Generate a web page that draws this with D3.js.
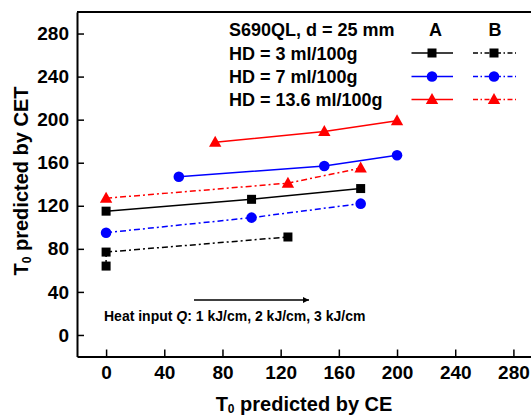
<!DOCTYPE html>
<html><head><meta charset="utf-8">
<script src="https://cdn.jsdelivr.net/npm/d3@7"></script>
<style>body{margin:0;background:#fff}svg{display:block}text{font-family:"Liberation Sans",Arial,sans-serif;font-weight:bold;fill:#000}</style>
</head><body><svg id="c" width="531" height="416"></svg>
<script>
const xTicks = [0, 40, 80, 120, 160, 200, 240, 280];
const yTicks = [0, 40, 80, 120, 160, 200, 240, 280];
const seriesNames = ["HD = 3 ml/100g", "HD = 7 ml/100g", "HD = 13.6 ml/100g"];
const seriesColors = ["#000000", "#0000ff", "#ff0000"];
const seriesShapes = ["square", "circle", "triangle"];
// Set A (solid)
const aX3 = [0, 100, 175],  aY3 = [115, 126, 136];
const aX7 = [50, 150, 200], aY7 = [147, 157, 167];
const aX13 = [75, 150, 200], aY13 = [179, 189, 199];
// Set B (dash-dot)
const bX3 = [0, 0, 125],    bY3 = [64, 77, 91];
const bX7 = [0, 100, 175],  bY7 = [95, 109, 122];
const bX13 = [0, 125, 175], bY13 = [127, 141, 155];

const svg = d3.select("#c");
const x = d3.scaleLinear().domain([-20, 300]).range([77, 542.5]);
const y = d3.scaleLinear().domain([-20, 300]).range([356.5, 12]);

const setA = [[aX3, aY3], [aX7, aY7], [aX13, aY13]];
const setB = [[bX3, bY3], [bX7, bY7], [bX13, bY13]];
const dashB = "6,3,2,3";
const FONT = '"Liberation Sans",Arial,sans-serif';

// axes
const xAxis = d3.axisBottom(x).tickValues(xTicks).tickSizeInner(-7).tickSizeOuter(0).tickPadding(9);
const yAxis = d3.axisLeft(y).tickValues(yTicks).tickSizeInner(-7).tickSizeOuter(0).tickPadding(8);
const gx = svg.append("g").attr("transform", `translate(0,${y(-20)})`).call(xAxis);
const gy = svg.append("g").attr("transform", `translate(${x(-20)},0)`).call(yAxis);
[gx, gy].forEach(g => {
  g.select(".domain").attr("stroke", "#000").attr("stroke-width", 2);
  g.selectAll(".tick line").attr("stroke", "#000").attr("stroke-width", 1.5);
  g.selectAll(".tick text").style("font-size", "19px").style("font-family", FONT).style("font-weight", "bold").attr("fill", "#000");
});
// frame top and right
svg.append("line").attr("x1", x(-20)).attr("x2", x(300)).attr("y1", y(300)).attr("y2", y(300)).attr("stroke", "#000").attr("stroke-width", 2);
svg.append("line").attr("x1", x(300)).attr("x2", x(300)).attr("y1", y(300)).attr("y2", y(-20)).attr("stroke", "#000").attr("stroke-width", 2);

// axis titles
const xt = svg.append("text").attr("x", 304).attr("y", 410.5).attr("text-anchor", "middle").style("font-size", "20px");
xt.append("tspan").text("T");
xt.append("tspan").text("0").style("font-size", "12px").attr("dy", 2.5);
xt.append("tspan").text(" predicted by CE").attr("dy", -2.5);
const yt = svg.append("text").attr("transform", "translate(28,181) rotate(-90)").attr("text-anchor", "middle").style("font-size", "20px");
yt.append("tspan").text("T");
yt.append("tspan").text("0").style("font-size", "12px").attr("dy", 3);
yt.append("tspan").text(" predicted by CET").attr("dy", -3);

function marker(g, shape, color, cx, cy) {
  if (shape === "square") g.append("rect").attr("x", cx - 4.5).attr("y", cy - 4.5).attr("width", 9).attr("height", 9).attr("fill", color);
  else if (shape === "circle") g.append("circle").attr("cx", cx).attr("cy", cy).attr("r", 5.3).attr("fill", color);
  else g.append("path").attr("d", `M${cx},${cy - 6.5}L${cx + 6.2},${cy + 4.5}L${cx - 6.2},${cy + 4.5}Z`).attr("fill", color);
}

const line = d3.line().x(d => x(d[0])).y(d => y(d[1]));
function drawSet(set, dash) {
  set.forEach((s, i) => {
    const pts = s[0].map((v, j) => [v, s[1][j]]);
    const g = svg.append("g");
    g.append("path").attr("d", line(pts)).attr("fill", "none").attr("stroke", seriesColors[i]).attr("stroke-width", 1.5).attr("stroke-dasharray", dash);
    pts.forEach(p => marker(g, seriesShapes[i], seriesColors[i], x(p[0]), y(p[1])));
  });
}
drawSet(setB, dashB);
drawSet(setA, null);

// legend
const lg = svg.append("g");
lg.append("text").attr("x", 229).attr("y", 36).style("font-size", "18px").text("S690QL, d = 25 mm");
lg.append("text").attr("x", 435.5).attr("y", 36).attr("text-anchor", "middle").style("font-size", "18px").text("A");
lg.append("text").attr("x", 495).attr("y", 36).attr("text-anchor", "middle").style("font-size", "18px").text("B");
const rowY = [53, 76.5, 99.5];
seriesNames.forEach((n, i) => {
  lg.append("text").attr("x", 229).attr("y", rowY[i] + 6.5).style("font-size", "18px").text(n);
  lg.append("line").attr("x1", 411.5).attr("x2", 453).attr("y1", rowY[i]).attr("y2", rowY[i]).attr("stroke", seriesColors[i]).attr("stroke-width", 1.5);
  marker(lg, seriesShapes[i], seriesColors[i], 432, rowY[i]);
  lg.append("line").attr("x1", 473).attr("x2", 516).attr("y1", rowY[i]).attr("y2", rowY[i]).attr("stroke", seriesColors[i]).attr("stroke-width", 1.5).attr("stroke-dasharray", "5,2.5,1.5,2.5");
  marker(lg, seriesShapes[i], seriesColors[i], 494, rowY[i]);
});

// annotation arrow and text
svg.append("defs").append("marker").attr("id", "ah").attr("viewBox", "0 0 10 10").attr("refX", 10).attr("refY", 5)
  .attr("markerWidth", 10).attr("markerHeight", 6).attr("markerUnits", "userSpaceOnUse").attr("orient", "auto")
  .append("path").attr("d", "M0,0L10,5L0,10Z").attr("fill", "#000");
svg.append("line").attr("x1", 194).attr("x2", 309).attr("y1", 300).attr("y2", 300).attr("stroke", "#000").attr("stroke-width", 1.3).attr("marker-end", "url(#ah)");
const at = svg.append("text").attr("x", 104).attr("y", 321).style("font-size", "14px");
at.append("tspan").text("Heat input ");
at.append("tspan").text("Q").style("font-style", "italic");
at.append("tspan").text(": 1 kJ/cm, 2 kJ/cm, 3 kJ/cm");
</script></body></html>
